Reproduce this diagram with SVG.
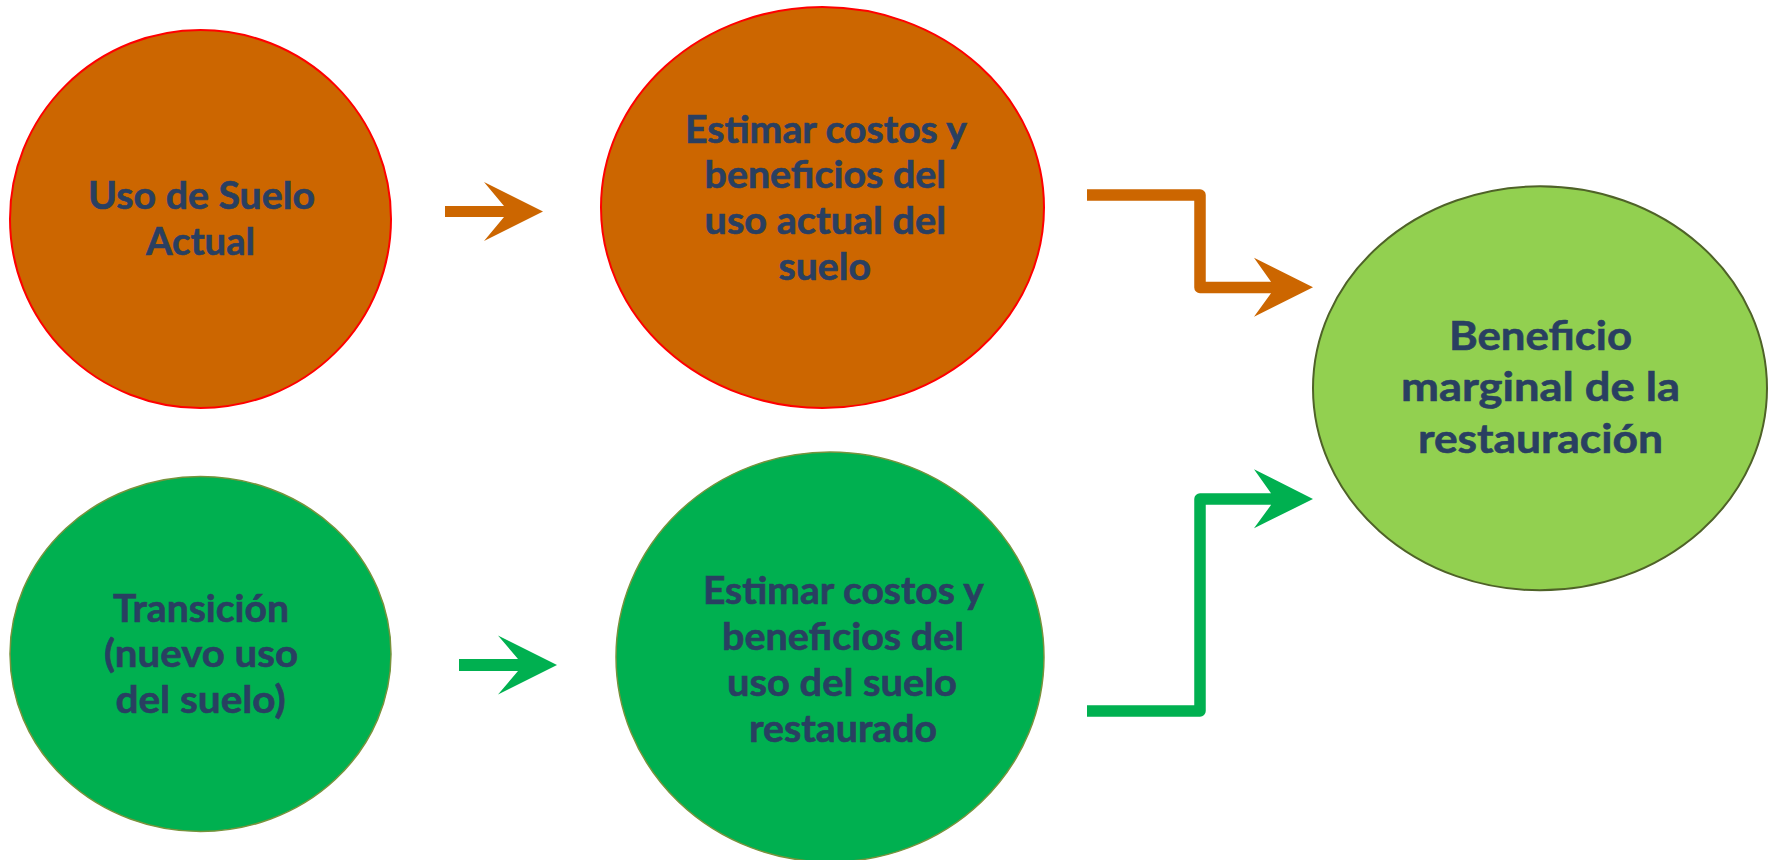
<svg xmlns="http://www.w3.org/2000/svg" width="1776" height="860" viewBox="0 0 1776 860">
<style>
.lbl{font-family:Lato,"Liberation Sans",sans-serif;font-weight:bold;fill:#293F61;stroke:#293F61;stroke-width:0.6;text-anchor:middle;}
.s{font-size:38px;}
.b{font-size:41px;}
.or{fill:#CC6600;}
.gr{fill:#00B050;}
.orl{fill:none;stroke:#CC6600;stroke-width:11.5;stroke-linejoin:round;}
.grl{fill:none;stroke:#00B050;stroke-width:11.5;stroke-linejoin:round;}
</style>
<rect width="1776" height="860" fill="#FFFFFF"/>
<g id="connectors">
  <polygon class="or" points="445,206 504,206 484,182 543,211.5 484,241 504,217 445,217"/>
  <polygon class="gr" points="459,659 518,659 498,635.5 557,665 498,694.5 518,671 459,671"/>
  <polyline class="orl" points="1087,195 1200,195 1200,287.5 1272,287.5"/>
  <polygon class="or" points="1254,257.7 1313,287.3 1254,316.7 1271,293.3 1271,281.7"/>
  <polyline class="grl" points="1087,711 1200,711 1200,499 1272,499"/>
  <polygon class="gr" points="1254,469.3 1313,499 1254,528.3 1271,505 1271,493.3"/>
</g>
<g id="node-uso-actual">
  <ellipse cx="200.5" cy="219" rx="190.5" ry="189" fill="#CC6600" stroke="#FF0000" stroke-width="2"/>
  <text class="lbl s" x="201.5" y="208.5" textLength="227" lengthAdjust="spacingAndGlyphs">Uso de Suelo</text>
  <text class="lbl s" x="200.5" y="254.5" textLength="109" lengthAdjust="spacingAndGlyphs">Actual</text>
</g>
<g id="node-estimar-actual">
  <ellipse cx="822.5" cy="207.5" rx="221.5" ry="200.5" fill="#CC6600" stroke="#FF0000" stroke-width="2"/>
  <text class="lbl s" x="826" y="142.7" textLength="282" lengthAdjust="spacingAndGlyphs">Estimar costos y</text>
  <text class="lbl s" x="825.3" y="188.3" textLength="241.5" lengthAdjust="spacingAndGlyphs">beneficios del</text>
  <text class="lbl s" x="825.3" y="234" textLength="241.5" lengthAdjust="spacingAndGlyphs">uso actual del</text>
  <text class="lbl s" x="824.8" y="280" textLength="92.5" lengthAdjust="spacingAndGlyphs">suelo</text>
</g>
<g id="node-beneficio">
  <ellipse cx="1540" cy="388.3" rx="227" ry="202" fill="#92D050" stroke="#4F6228" stroke-width="2"/>
  <text class="lbl b" x="1540.5" y="350" textLength="183" lengthAdjust="spacingAndGlyphs">Beneficio</text>
  <text class="lbl b" x="1540.5" y="400.7" textLength="279" lengthAdjust="spacingAndGlyphs">marginal de la</text>
  <text class="lbl b" x="1540.5" y="453" textLength="245" lengthAdjust="spacingAndGlyphs">restauración</text>
</g>
<g id="node-transicion">
  <ellipse cx="200.5" cy="654" rx="190.5" ry="177.5" fill="#00B050" stroke="#77933C" stroke-width="1.5"/>
  <text class="lbl s" x="201" y="621.7" textLength="176" lengthAdjust="spacingAndGlyphs">Transición</text>
  <text class="lbl s" x="201" y="666.7" textLength="194" lengthAdjust="spacingAndGlyphs">(nuevo uso</text>
  <text class="lbl s" x="200.5" y="712.7" textLength="170" lengthAdjust="spacingAndGlyphs">del suelo)</text>
</g>
<g id="node-estimar-restaurado">
  <ellipse cx="830" cy="657" rx="214" ry="205" fill="#00B050" stroke="#77933C" stroke-width="1.5"/>
  <text class="lbl s" x="843.4" y="604" textLength="281" lengthAdjust="spacingAndGlyphs">Estimar costos y</text>
  <text class="lbl s" x="843" y="650" textLength="242" lengthAdjust="spacingAndGlyphs">beneficios del</text>
  <text class="lbl s" x="842" y="696" textLength="230" lengthAdjust="spacingAndGlyphs">uso del suelo</text>
  <text class="lbl s" x="843" y="741.7" textLength="188" lengthAdjust="spacingAndGlyphs">restaurado</text>
</g>
</svg>
